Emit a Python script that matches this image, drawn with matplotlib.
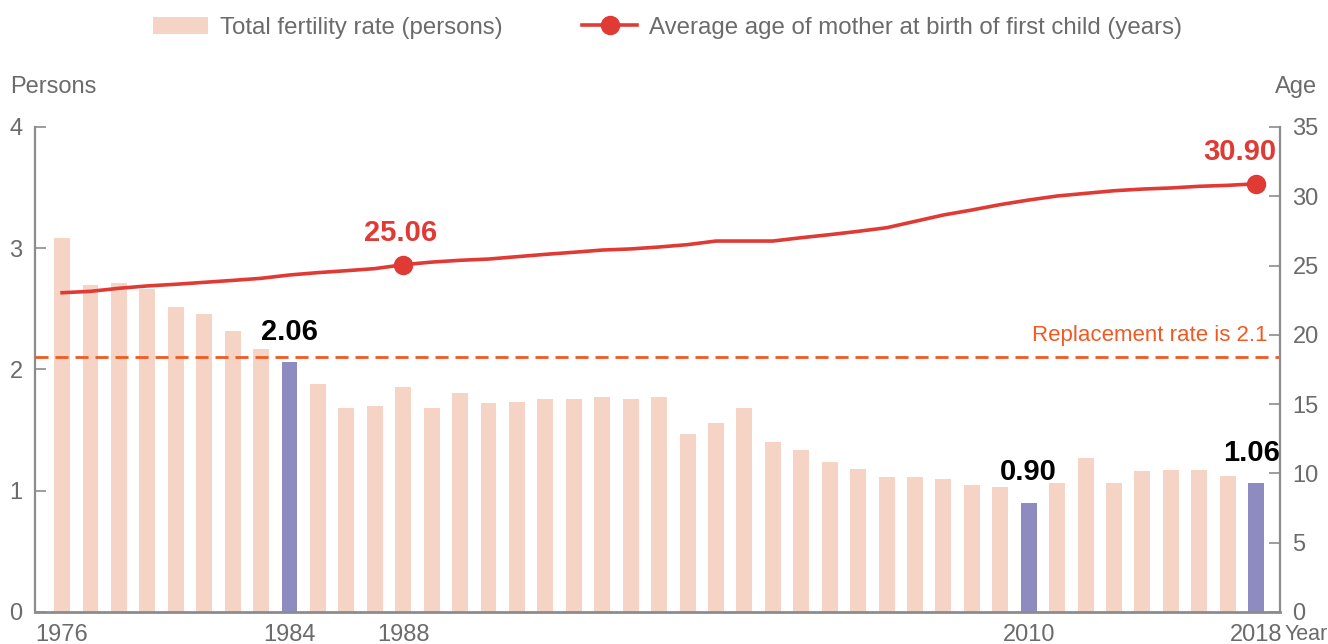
import matplotlib.pyplot as plt
import numpy as np
from matplotlib.lines import Line2D
from matplotlib.patches import Patch

# Data
years = np.arange(1976, 2019)
fertility = [3.085, 2.70, 2.715, 2.665, 2.515, 2.455, 2.32, 2.17, 2.06, 1.88,
             1.68, 1.70, 1.855, 1.68, 1.81, 1.72, 1.73, 1.76, 1.755, 1.775,
             1.76, 1.77, 1.465, 1.555, 1.68, 1.40, 1.34, 1.235, 1.18, 1.115,
             1.115, 1.10, 1.05, 1.03, 0.90, 1.065, 1.27, 1.065, 1.165, 1.175,
             1.17, 1.125, 1.06]
mother_age = [23.04, 23.14, 23.36, 23.53, 23.65, 23.79, 23.93, 24.08, 24.32, 24.49,
              24.63, 24.78, 25.06, 25.25, 25.38, 25.47, 25.64, 25.81, 25.96, 26.12,
              26.20, 26.34, 26.51, 26.77, 26.77, 26.77, 27.01, 27.23, 27.47, 27.73,
              28.19, 28.65, 29.01, 29.40, 29.73, 30.02, 30.21, 30.40, 30.52, 30.60,
              30.72, 30.79, 30.90]
highlight_years = [1984, 2010, 2018]
age_marked_years = [1988, 2018]
xtick_years = [1976, 1984, 1988, 2010, 2018]
replacement_rate = 2.1

# Colours
bar_color = '#f6d4c5'
hl_color = '#8e8bc1'
line_color = '#e03a35'
repl_color = '#f05a22'
grey_text = '#6b6b6b'
spine_color = '#8c8c8c'

plt.rcParams['font.family'] = ['Liberation Sans', 'DejaVu Sans']
num_font = ['Liberation Sans Narrow', 'Liberation Sans', 'DejaVu Sans']

fig = plt.figure(figsize=(13.28, 6.44), dpi=100)
ax = fig.add_axes([0.0264, 0.0497, 0.9375, 0.7531])
ax2 = ax.twinx()

# Bars
colors = [hl_color if y in highlight_years else bar_color for y in years]
ax.bar(years, fertility, width=0.56, color=colors, zorder=1)

# Replacement line
ax.axhline(replacement_rate, color=repl_color, lw=2, linestyle=(0, (4.7, 2.5)), zorder=3)
ax.text(2018.4, replacement_rate + 0.18, f'Replacement rate is {replacement_rate}',
        color=repl_color, fontsize=16, ha='right', va='center')

# Value labels on highlighted bars
for y in highlight_years:
    v = fertility[y - 1976]
    dx = -3 if y == 2018 else 0
    ax.annotate(f'{v:.2f}', xy=(y, v), xytext=(dx, 12), textcoords='offset points',
                ha='center', va='bottom', fontsize=21, fontweight='bold',
                family=num_font, color='black')

# Age line
ax2.plot(years, mother_age, color=line_color, lw=2.6, zorder=4)
for y in age_marked_years:
    a = mother_age[y - 1976]
    ax2.plot(y, a, 'o', color=line_color, markersize=13, zorder=5)
    dx = -12 if y == 2018 else -2
    ax2.annotate(f'{a:.2f}', xy=(y, a), xytext=(dx, 13), textcoords='offset points',
                 ha='center', va='bottom', fontsize=21, fontweight='bold',
                 family=num_font, color=line_color)

# Axes styling
ax.set_xlim(1975.05, 2018.84)
ax.set_ylim(0, 4)
ax2.set_ylim(0, 35)
ax.set_yticks([0, 1, 2, 3, 4])
ax2.set_yticks(np.arange(0, 36, 5))
ax.set_xticks(xtick_years)
ax.tick_params(axis='x', length=0, pad=9, labelsize=17, labelcolor=grey_text)
ax.tick_params(axis='y', direction='in', length=8, width=1.2, color=spine_color,
               pad=9, labelsize=17, labelcolor=grey_text)
ax2.tick_params(axis='y', direction='in', length=8, width=1.2, color=spine_color,
                pad=9, labelsize=17, labelcolor=grey_text)

for a in (ax, ax2):
    a.spines['top'].set_visible(False)
    a.patch.set_visible(False)
ax.spines['right'].set_visible(False)
ax2.spines['left'].set_visible(False)
ax2.spines['bottom'].set_visible(False)
ax.spines['left'].set_color(spine_color)
ax.spines['left'].set_linewidth(1.6)
ax.spines['bottom'].set_color(spine_color)
ax.spines['bottom'].set_linewidth(2)
ax2.spines['right'].set_color(spine_color)
ax2.spines['right'].set_linewidth(1.6)
ax.set_zorder(1)
ax2.set_zorder(2)

fig.text(0.0075, 0.865, 'Persons', fontsize=17, color=grey_text, ha='left', va='center')
fig.text(0.9917, 0.865, 'Age', fontsize=17, color=grey_text, ha='right', va='center')
fig.text(0.9672, 0.0155, 'Year', fontsize=15.5, color=grey_text, ha='left', va='center')

# Legend
handles = [Patch(facecolor=bar_color, edgecolor='none'),
           Line2D([0], [0], color=line_color, lw=2.6, marker='o', markersize=13)]
labels = ['Total fertility rate (persons)',
          'Average age of mother at birth of first child (years)']
fig.legend(handles, labels, loc='center', bbox_to_anchor=(0.5027, 0.957), ncol=2,
           frameon=False, fontsize=17.3, labelcolor=grey_text, handlelength=2.3,
           handletextpad=0.5, columnspacing=3.3)

fig.savefig('out.png', dpi=100)
